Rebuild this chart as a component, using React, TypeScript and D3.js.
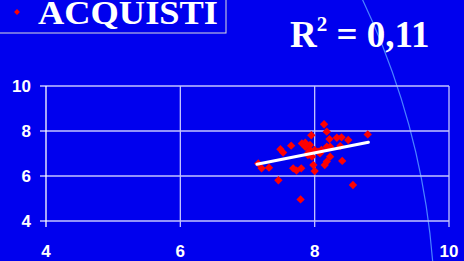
import * as d3 from "d3";
import React, {useEffect, useRef} from "react";

// scatter values
const xValues = [8.14, 8.18, 7.95, 8.33, 8.40, 8.50, 8.79, 8.22, 7.65, 7.81, 7.86, 7.49, 7.53, 8.18, 8.23, 8.38,
  7.93, 8.00, 7.90, 7.96, 8.08, 8.23, 8.18, 8.15, 8.41, 7.16, 7.21, 7.32, 7.68, 7.73, 7.80, 7.98, 8.00, 7.46,
  8.57, 7.79, 7.86, 7.93, 7.90, 8.05, 8.10];
const yValues = [8.30, 7.97, 7.81, 7.70, 7.72, 7.60, 7.85, 7.64, 7.35, 7.45, 7.48, 7.19, 7.04, 7.30, 7.30, 7.33,
  7.16, 7.16, 6.93, 6.86, 7.01, 6.86, 6.64, 6.49, 6.67, 6.56, 6.34, 6.37, 6.34, 6.24, 6.34, 6.49, 6.22, 5.81,
  5.60, 4.96, 7.30, 7.38, 7.01, 7.08, 7.16];
const trendX = [7.14, 8.80];
const trendY = [6.52, 7.50];
const xTicks = [4, 6, 8, 10];
const yTicks = [4, 6, 8, 10];
const legendLabel = "ACQUISTI";

const BG = "#0000ee";
const GRID = "#c4c4ff";

const App: React.FC = () => {
  const ref = useRef<SVGSVGElement | null>(null);

  useEffect(() => {
    const width = 464;
    const height = 261;
    const margin = {top: 86, right: 15, bottom: 40, left: 46};
    const svg = d3.select(ref.current);
    svg.selectAll("*").remove();
    svg.attr("width", width).attr("height", height);

    svg.append("rect").attr("width", width).attr("height", height).attr("fill", BG);

    // decorative arc in the background
    svg.append("circle")
      .attr("cx", -313).attr("cy", 321).attr("r", 748)
      .attr("fill", "none").attr("stroke", "#4a82ff").attr("stroke-width", 1.2);

    const x = d3.scaleLinear().domain([4, 10]).range([margin.left, width - margin.right]);
    const y = d3.scaleLinear().domain([4, 10]).range([height - margin.bottom, margin.top]);

    // horizontal grid (with small tick to the left)
    svg.append("g")
      .selectAll("line")
      .data(yTicks)
      .enter()
      .append("line")
      .attr("x1", margin.left - 6)
      .attr("x2", x(10))
      .attr("y1", (d) => y(d))
      .attr("y2", (d) => y(d))
      .attr("stroke", GRID)
      .attr("stroke-width", 1.3);

    // vertical grid (with small tick below)
    svg.append("g")
      .selectAll("line")
      .data(xTicks)
      .enter()
      .append("line")
      .attr("x1", (d) => x(d))
      .attr("x2", (d) => x(d))
      .attr("y1", y(10))
      .attr("y2", y(4) + 6)
      .attr("stroke", (d) => (d === 4 ? "#ffffff" : GRID))
      .attr("stroke-width", 1.3);

    const labelStyle = (sel: d3.Selection<SVGTextElement, number, SVGGElement, unknown>) =>
      sel.attr("fill", "white")
        .style("font-family", "'Liberation Sans', Arial, sans-serif")
        .style("font-weight", "bold")
        .style("font-size", "17px");

    svg.append("g")
      .selectAll("text")
      .data(yTicks)
      .enter()
      .append("text")
      .attr("x", 31)
      .attr("y", (d) => y(d))
      .attr("dy", "0.36em")
      .attr("text-anchor", "end")
      .text((d) => d)
      .call(labelStyle);

    svg.append("g")
      .selectAll("text")
      .data(xTicks)
      .enter()
      .append("text")
      .attr("x", (d) => x(d))
      .attr("y", 257)
      .attr("text-anchor", "middle")
      .text((d) => d)
      .call(labelStyle);

    const diamond = d3.symbol().type(d3.symbolDiamond2).size(44);
    const points = xValues.map((v, i) => [v, yValues[i]]);
    svg.append("g")
      .selectAll("path")
      .data(points)
      .enter()
      .append("path")
      .attr("d", diamond)
      .attr("transform", (d) => `translate(${x(d[0])},${y(d[1])})`)
      .attr("fill", "#ff0000");

    // trend line
    svg.append("line")
      .attr("x1", x(trendX[0])).attr("y1", y(trendY[0]))
      .attr("x2", x(trendX[1])).attr("y2", y(trendY[1]))
      .attr("stroke", "white").attr("stroke-width", 3).attr("stroke-linecap", "round");

    // legend box
    svg.append("rect")
      .attr("x", -5).attr("y", -5).attr("width", 231).attr("height", 38)
      .attr("fill", BG).attr("stroke", "#dcdcdc").attr("stroke-width", 1);
    svg.append("path")
      .attr("d", d3.symbol().type(d3.symbolDiamond2).size(22))
      .attr("transform", "translate(17,12)")
      .attr("fill", "#ff0000");
    svg.append("text")
      .attr("x", 38).attr("y", 24)
      .attr("textLength", 180)
      .attr("lengthAdjust", "spacingAndGlyphs")
      .attr("fill", "white")
      .style("font-family", "'Liberation Serif', 'Times New Roman', serif")
      .style("font-weight", "bold")
      .style("font-size", "33px")
      .text(legendLabel);

    // R squared
    const r2 = svg.append("text")
      .attr("x", 290).attr("y", 47)
      .attr("fill", "white")
      .style("font-family", "'Liberation Serif', 'Times New Roman', serif")
      .style("font-weight", "bold")
      .style("font-size", "37px");
    r2.append("tspan").text("R");
    r2.append("tspan").attr("dy", -16).style("font-size", "21px").text("2");
    r2.append("tspan").attr("dy", 16).text(" = 0,11");

    return () => {
      svg.selectAll("*").remove();
    };
  }, []);

  return <svg ref={ref} style={{position: "absolute", left: 0, top: 0, display: "block"}}/>;
};

export default App;
